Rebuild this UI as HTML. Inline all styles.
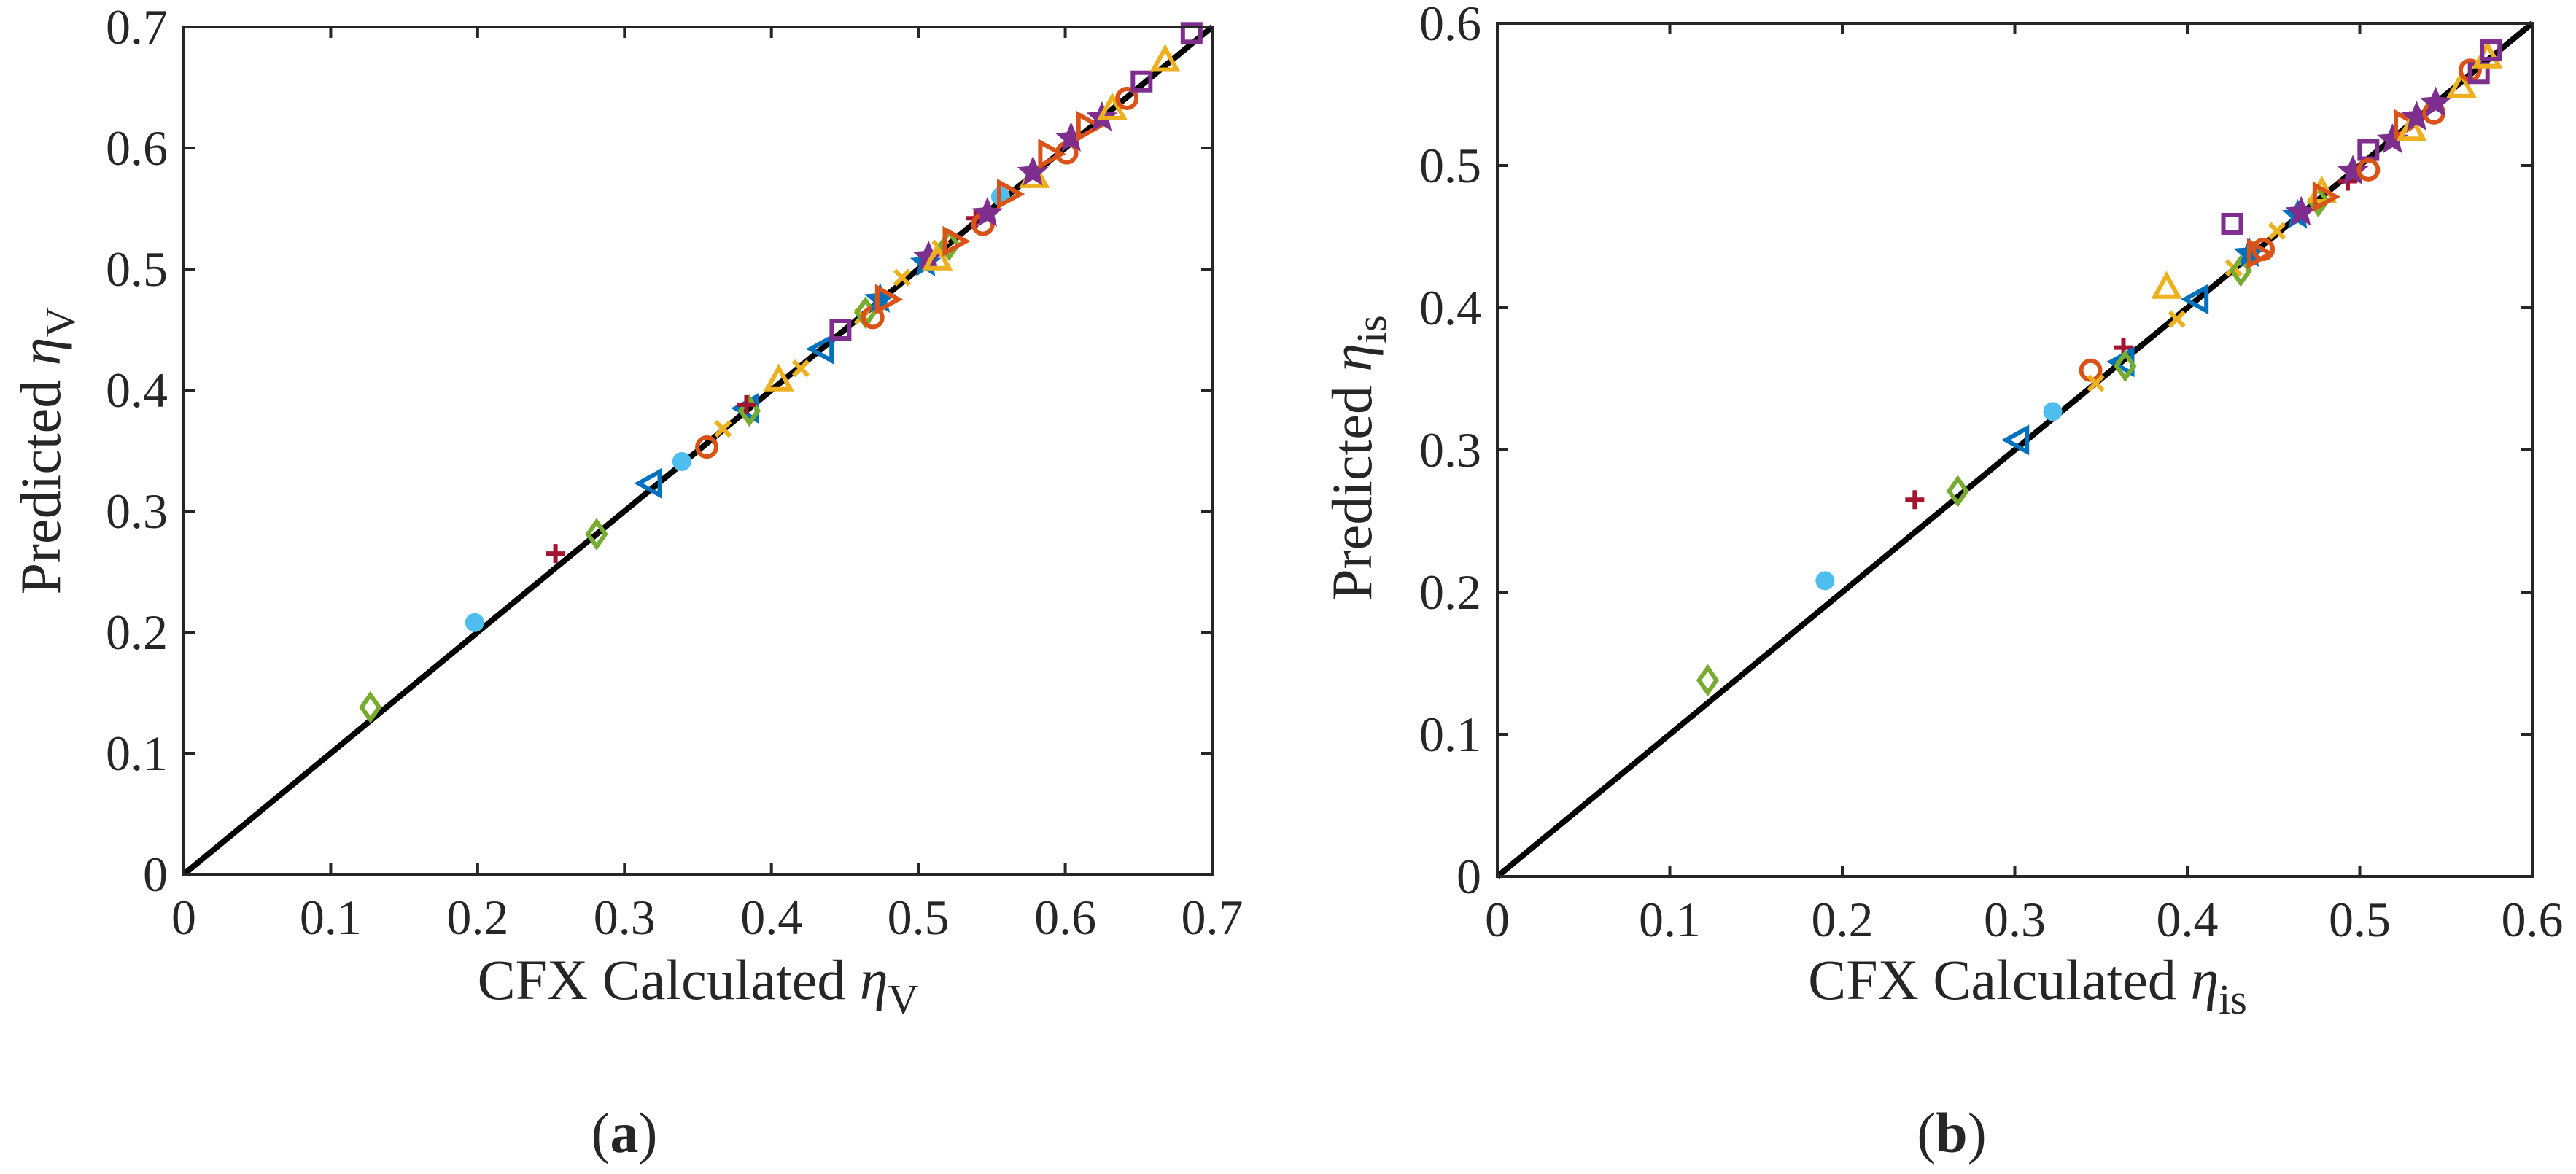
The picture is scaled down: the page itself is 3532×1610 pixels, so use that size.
<!DOCTYPE html>
<html><head><meta charset="utf-8"><style>
html,body{margin:0;padding:0;background:#fff}
svg{display:block}
svg text{font-family:"Liberation Serif","Times New Roman","Nimbus Roman","DejaVu Serif",serif !important;fill:#262626}
</style></head><body>
<svg id="fig" width="3532" height="1610" viewBox="0 0 3532 1610" xmlns="http://www.w3.org/2000/svg" font-family="Liberation Serif, Times New Roman, serif">
<g id="pa"></g>
<g id="pb"></g>
</svg>
<script>
// Panel (a) data: eta_V
const aX = [0.127,0.198,0.253,0.281,0.318,0.339,0.356,0.367,0.384,0.385,0.383,0.405,0.420,0.435,0.447,0.462,0.464,0.469,0.474,0.478,0.489,0.505,0.507,0.513,0.515,0.521,0.524,0.539,0.544,0.547,0.556,0.561,0.579,0.578,0.589,0.601,0.604,0.615,0.625,0.632,0.642,0.652,0.668,0.686];
const aY = [0.138,0.208,0.265,0.281,0.323,0.341,0.353,0.368,0.385,0.383,0.388,0.408,0.418,0.434,0.450,0.461,0.464,0.460,0.475,0.475,0.493,0.505,0.510,0.508,0.517,0.520,0.523,0.542,0.537,0.546,0.560,0.562,0.576,0.580,0.595,0.596,0.608,0.618,0.625,0.632,0.641,0.655,0.672,0.695];
const aK = ["diamond","dot","plus","diamond","ltri","dot","circle","x","ltri","diamond","plus","utri","x","ltri","square","x","diamond","circle","bstar","rtri","x","bstar","star","utri","x","diamond","rtri","plus","circle","star","dot","rtri","utri","star","rtri","circle","star","rtri","star","utri","circle","square","utri","square"];
// Panel (b) data: eta_is
const bX = [0.122,0.190,0.242,0.267,0.302,0.322,0.344,0.347,0.363,0.363,0.364,0.388,0.394,0.406,0.426,0.427,0.431,0.436,0.441,0.444,0.452,0.464,0.466,0.476,0.478,0.479,0.493,0.496,0.505,0.505,0.519,0.526,0.530,0.533,0.543,0.544,0.559,0.564,0.569,0.574,0.576];
const bY = [0.138,0.208,0.265,0.271,0.307,0.327,0.356,0.347,0.372,0.362,0.359,0.414,0.392,0.406,0.459,0.428,0.426,0.438,0.438,0.441,0.454,0.465,0.467,0.475,0.481,0.478,0.489,0.496,0.511,0.497,0.518,0.529,0.525,0.534,0.537,0.544,0.555,0.567,0.565,0.576,0.581];
const bK = ["diamond","dot","plus","diamond","ltri","dot","circle","x","plus","ltri","diamond","utri","x","ltri","square","x","diamond","bstar","rtri","circle","x","bstar","star","diamond","utri","rtri","plus","star","square","circle","star","rtri","utri","star","circle","star","utri","circle","square","utri","square"];
const aTicks = ["0","0.1","0.2","0.3","0.4","0.5","0.6","0.7"];
const bTicks = ["0","0.1","0.2","0.3","0.4","0.5","0.6"];

const NS="http://www.w3.org/2000/svg";
const FF="Liberation Serif, Times New Roman, serif";
const COL={circle:"#D95319",plus:"#A2142F",x:"#EDB120",star:"#7E2F8E",bstar:"#0072BD",square:"#7E2F8E",diamond:"#77AC30",utri:"#EDB120",ltri:"#0072BD",rtri:"#D95319",dot:"#4DBEEE"};
function mk(p,tag,at){const e=document.createElementNS(NS,tag);for(const k in at)e.setAttribute(k,at[k]);p.appendChild(e);return e;}
function starPts(cx,cy,R,r,n){let s=[];for(let i=0;i<2*n;i++){const a=-Math.PI/2+i*Math.PI/n;const rr=i%2?r:R;s.push((cx+rr*Math.cos(a)).toFixed(1)+","+(cy+rr*Math.sin(a)).toFixed(1));}return s.join(" ");}
function marker(g,k,cx,cy){
  const c=COL[k];let e;const sw=6;
  if(k==="circle")e=mk(g,"circle",{cx:cx,cy:cy,r:13,fill:"none",stroke:c,"stroke-width":sw});
  else if(k==="square")e=mk(g,"rect",{x:cx-12,y:cy-12,width:24,height:24,fill:"none",stroke:c,"stroke-width":sw});
  else if(k==="diamond")e=mk(g,"polygon",{points:`${cx},${cy-17} ${cx+12},${cy} ${cx},${cy+17} ${cx-12},${cy}`,fill:"none",stroke:c,"stroke-width":sw});
  else if(k==="utri")e=mk(g,"polygon",{points:`${cx},${cy-17} ${cx+16},${cy+12} ${cx-16},${cy+12}`,fill:"none",stroke:c,"stroke-width":sw});
  else if(k==="ltri")e=mk(g,"polygon",{points:`${cx-17},${cy} ${cx+12},${cy-16} ${cx+12},${cy+16}`,fill:"none",stroke:c,"stroke-width":sw});
  else if(k==="rtri")e=mk(g,"polygon",{points:`${cx+17},${cy} ${cx-12},${cy-16} ${cx-12},${cy+16}`,fill:"none",stroke:c,"stroke-width":sw});
  else if(k==="plus")e=mk(g,"path",{d:`M${cx-13},${cy}H${cx+13}M${cx},${cy-13}V${cy+13}`,stroke:c,"stroke-width":sw,fill:"none"});
  else if(k==="x")e=mk(g,"path",{d:`M${cx-10},${cy-10}L${cx+10},${cy+10}M${cx-10},${cy+10}L${cx+10},${cy-10}`,stroke:c,"stroke-width":sw,fill:"none"});
  else if(k==="star"||k==="bstar")e=mk(g,"polygon",{points:starPts(cx,cy,20,9,5),fill:c,stroke:c,"stroke-width":2});
  else e=mk(g,"circle",{cx:cx,cy:cy,r:13,fill:c});
  
  
}
function panel(g,P){
  const sx=v=>P.L+(v/P.max)*(P.R-P.L), sy=v=>P.B-(v/P.max)*(P.B-P.T);
  const diag=mk(g,"line",{x1:sx(0),y1:sy(0),x2:sx(P.max),y2:sy(P.max),stroke:"#000","stroke-width":8});
  
  
  for(let i=0;i<P.xs.length;i++)marker(g,P.ks[i],sx(P.xs[i]),sy(P.ys[i]));
  const box=mk(g,"rect",{x:P.L,y:P.T,width:P.R-P.L,height:P.B-P.T,fill:"none",stroke:"#262626","stroke-width":4});
  
  
  P.ticks.forEach((t,i)=>{
    const v=i*0.1,x=sx(v),y=sy(v);
    const tk=mk(g,"path",{d:`M${x},${P.B}v-15M${x},${P.T}v15M${P.L},${y}h15M${P.R},${y}h-15`,stroke:"#262626","stroke-width":4,fill:"none"});
    
    
    const xl=mk(g,"text",{x:x,y:P.B+82,"text-anchor":"middle","font-size":68,"font-family":FF});xl.textContent=t;
    
    
    const yl=mk(g,"text",{x:P.L-22,y:y+23,"text-anchor":"end","font-size":68,"font-family":FF});yl.textContent=t;
    
    
  });
}
panel(document.getElementById("pa"),{L:252,R:1662,T:37,B:1199,max:0.7,xs:aX,ys:aY,ks:aK,ticks:aTicks});
panel(document.getElementById("pb"),{L:2053,R:3472,T:32,B:1202,max:0.6,xs:bX,ys:bY,ks:bK,ticks:bTicks});
</script>
<svg style="position:absolute;left:0;top:0" width="3532" height="1610" xmlns="http://www.w3.org/2000/svg" font-family="Liberation Serif, Times New Roman, serif">
<text x="957" y="1370" text-anchor="middle" font-size="78" font-family="Liberation Serif, Times New Roman, serif">CFX Calculated <tspan font-style="italic">η</tspan><tspan font-size="58" dy="20">V</tspan></text>
<text transform="translate(82,618) rotate(-90)" text-anchor="middle" font-size="78" font-family="Liberation Serif, Times New Roman, serif">Predicted <tspan font-style="italic">η</tspan><tspan font-size="58" dy="20">V</tspan></text>
<text x="856" y="1580" text-anchor="middle" font-size="78" font-family="Liberation Serif, Times New Roman, serif">(<tspan font-weight="bold">a</tspan>)</text>
<text x="2780" y="1370" text-anchor="middle" font-size="78" font-family="Liberation Serif, Times New Roman, serif">CFX Calculated <tspan font-style="italic">η</tspan><tspan font-size="58" dy="20">is</tspan></text>
<text transform="translate(1880,628) rotate(-90)" text-anchor="middle" font-size="78" font-family="Liberation Serif, Times New Roman, serif">Predicted <tspan font-style="italic">η</tspan><tspan font-size="58" dy="20">is</tspan></text>
<text x="2676" y="1580" text-anchor="middle" font-size="78" font-family="Liberation Serif, Times New Roman, serif">(<tspan font-weight="bold">b</tspan>)</text>
</svg>
</body></html>
